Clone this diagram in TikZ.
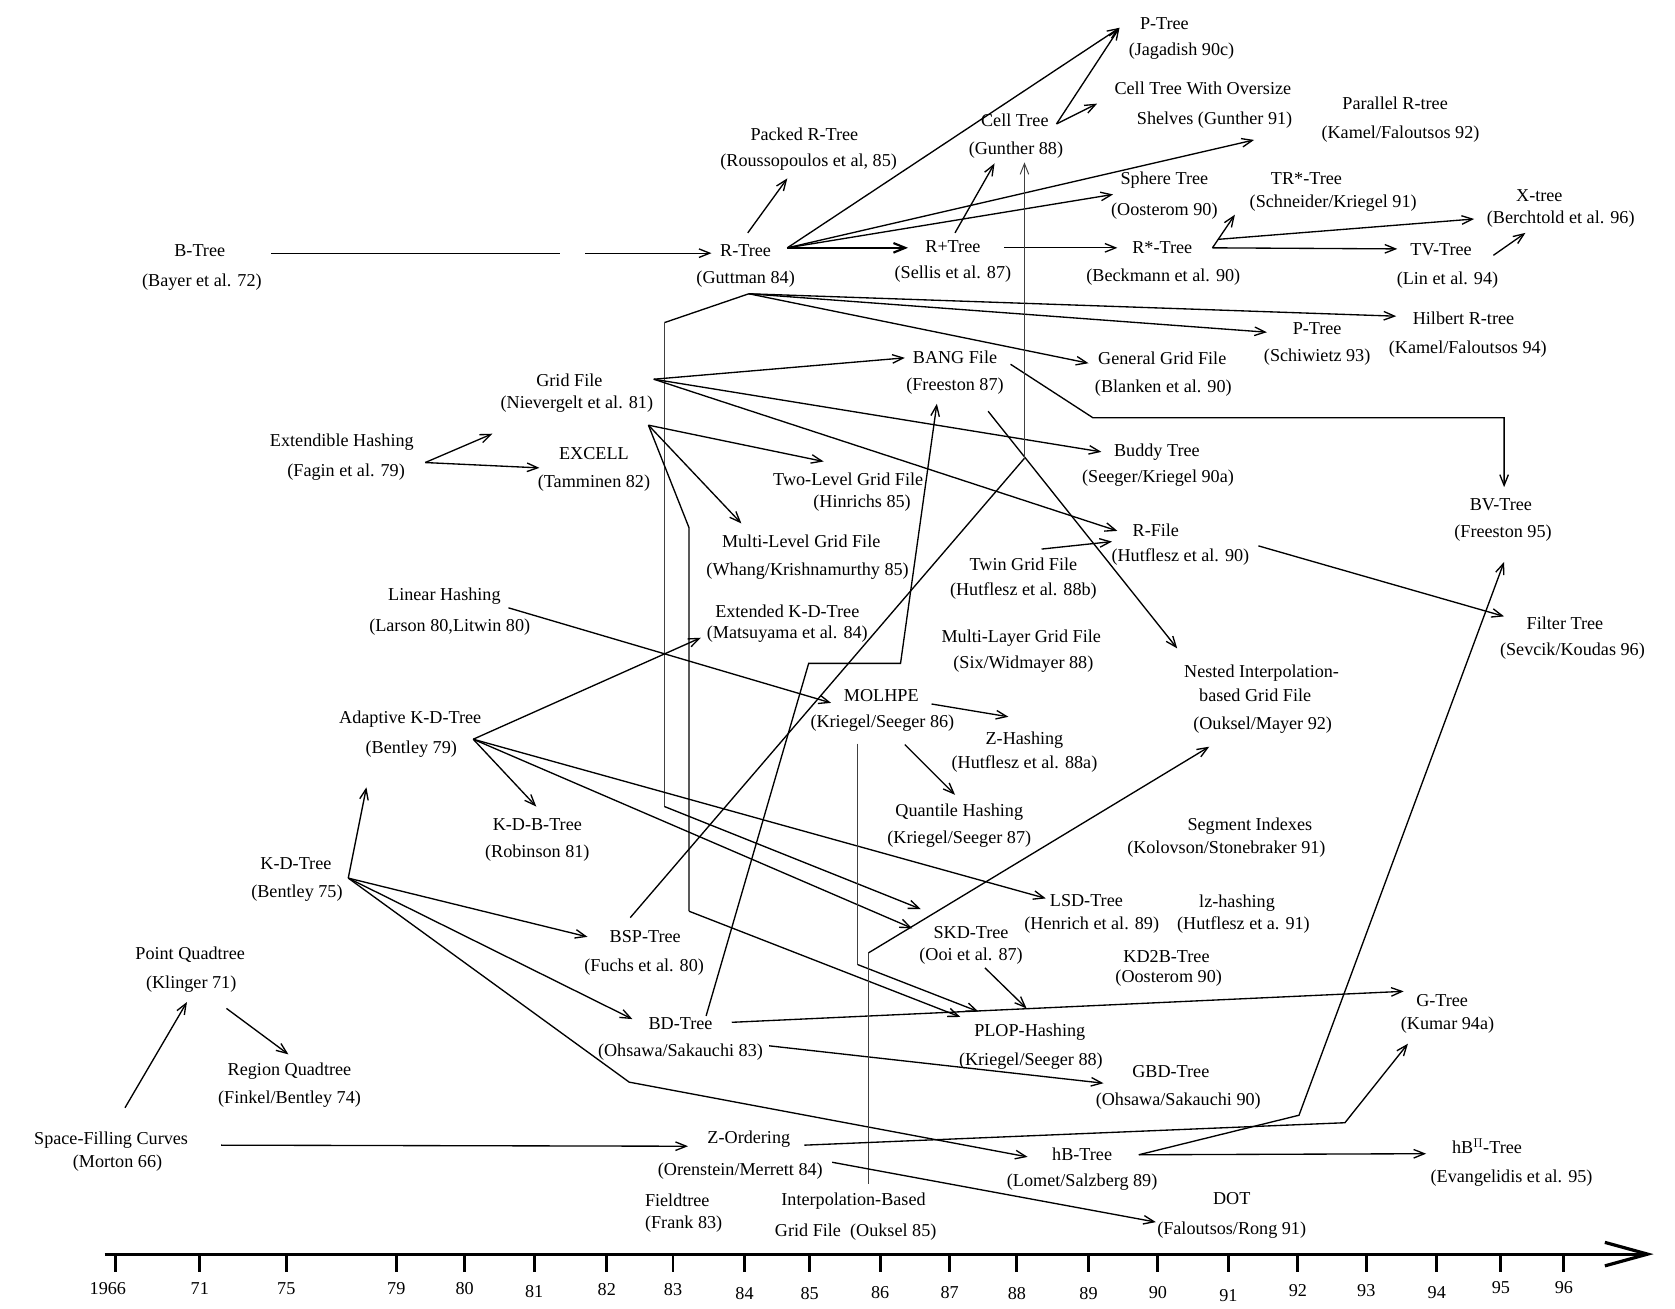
\documentclass[tikz,border=0pt]{standalone}
\usepackage{fontspec}
\setmainfont{Liberation Serif}
\usetikzlibrary{arrows.meta}
\newcommand\lblfont{\fontsize{17}{19}\selectfont}
\begin{document}
\begin{tikzpicture}[x=1pt,y=-1pt,
  lbl/.style={inner sep=0pt, font=\lblfont},
  con/.style={line width=1.25pt},
  arr/.style={con, -{Straight Barb[length=10pt,width=8pt]}},
  heavy/.style={line width=2pt, -{Straight Barb[length=11pt,width=9pt]}},
  vline/.style={line width=0.9pt, draw=black!75},
  varr/.style={vline, -{Straight Barb[length=10pt,width=8pt]}},
  tickmark/.style={line width=2.8pt},
  axis/.style={line width=3pt, -{Straight Barb[length=40pt,width=22pt]}}]

\fill[white] (0,0) rectangle (1568,1225);
\useasboundingbox (0,0) rectangle (1568,1225);

% ---------------- nodes ----------------
\node[lbl] (btA) at (187,235) {B-Tree};
\node[lbl] (btB) at (189,264) {(Bayer et al. 72)};
\node[lbl] (rtA) at (698,235) {R-Tree};
\node[lbl] (rtB) at (698,261) {(Guttman 84)};
\node[lbl] (prA) at (753,126) {Packed R-Tree};
\node[lbl] (prB) at (757,152) {(Roussopoulos et al, 85)};
\node[lbl] (ctA) at (950,113) {Cell Tree};
\node[lbl] (ctB) at (951,141) {(Gunther 88)};
\node[lbl] (pjA) at (1090,22) {P-Tree};
\node[lbl] (pjB) at (1106,48) {(Jagadish 90c)};
\node[lbl] (coA) at (1126,83) {Cell Tree With Oversize};
\node[lbl] (coB) at (1137,112) {Shelves (Gunther 91)};
\node[lbl] (parA) at (1306,97) {Parallel R-tree};
\node[lbl] (parB) at (1311,126) {(Kamel/Faloutsos 92)};
\node[lbl] (spA) at (1090,169) {Sphere Tree};
\node[lbl] (spB) at (1090,198) {(Oosterom 90)};
\node[lbl] (trA) at (1223,167) {TR*-Tree};
\node[lbl] (trB) at (1248,190) {(Schneider/Kriegel 91)};
\node[lbl] (xtA) at (1441,183) {X-tree};
\node[lbl] (xtB) at (1461,205) {(Berchtold et al. 96)};
\node[lbl] (rpA) at (892,231) {R+Tree};
\node[lbl] (rpB) at (892,257) {(Sellis et al. 87)};
\node[lbl] (rsA) at (1088,232) {R*-Tree};
\node[lbl] (rsB) at (1089,259) {(Beckmann et al. 90)};
\node[lbl] (tvA) at (1349,234) {TV-Tree};
\node[lbl] (tvB) at (1355,262) {(Lin et al. 94)};
\node[lbl] (hrA) at (1370,298) {Hilbert R-tree};
\node[lbl] (hrB) at (1374,327) {(Kamel/Faloutsos 94)};
\node[lbl] (psA) at (1233,308) {P-Tree};
\node[lbl] (psB) at (1233,334) {(Schiwietz 93)};
\node[lbl] (ggA) at (1088,335) {General Grid File};
\node[lbl] (ggB) at (1089,363) {(Blanken et al. 90)};
\node[lbl] (bgA) at (894,334) {BANG File};
\node[lbl] (bgB) at (894,361) {(Freeston 87)};
\node[lbl] (gfA) at (533,356) {Grid File};
\node[lbl] (gfB) at (540,378) {(Nievergelt et al. 81)};
\node[lbl] (ehA) at (320,414) {Extendible Hashing};
\node[lbl] (ehB) at (324,442) {(Fagin et al. 79)};
\node[lbl] (exA) at (556,425) {EXCELL};
\node[lbl] (exB) at (556,452) {(Tamminen 82)};
\node[lbl] (tlA) at (794,449) {Two-Level Grid File};
\node[lbl] (tlB) at (807,471) {(Hinrichs 85)};
\node[lbl] (buA) at (1083,423) {Buddy Tree};
\node[lbl] (buB) at (1084,448) {(Seeger/Kriegel 90a)};
\node[lbl] (bvA) at (1405,472) {BV-Tree};
\node[lbl] (bvB) at (1407,499) {(Freeston 95)};
\node[lbl] (rfA) at (1082,496) {R-File};
\node[lbl] (rfB) at (1105,521) {(Hutflesz et al. 90)};
\node[lbl] (mlA) at (750,507) {Multi-Level Grid File};
\node[lbl] (mlB) at (756,535) {(Whang/Krishnamurthy 85)};
\node[lbl] (tgA) at (958,528) {Twin Grid File};
\node[lbl] (tgB) at (958,553) {(Hutflesz et al. 88b)};
\node[lbl] (lhA) at (416,558) {Linear Hashing};
\node[lbl] (lhB) at (421,587) {(Larson 80,Litwin 80)};
\node[lbl] (ekA) at (737,572) {Extended K-D-Tree};
\node[lbl] (ekB) at (737,594) {(Matsuyama et al. 84)};
\node[lbl] (myA) at (956,597) {Multi-Layer Grid File};
\node[lbl] (myB) at (958,622) {(Six/Widmayer 88)};
\node[lbl] (ftA) at (1465,583) {Filter Tree};
\node[lbl] (ftB) at (1472,610) {(Sevcik/Koudas 96)};
\node[lbl] (niA) at (1181,630) {Nested Interpolation-};
\node[lbl] (niB) at (1175,651) {based Grid File};
\node[lbl] (niC) at (1182,679) {(Ouksel/Mayer 92)};
\node[lbl] (moA) at (825,651) {MOLHPE};
\node[lbl] (moB) at (826,677) {(Kriegel/Seeger 86)};
\node[lbl] (zhA) at (959,693) {Z-Hashing};
\node[lbl] (zhB) at (959,715) {(Hutflesz et al. 88a)};
\node[lbl] (akA) at (384,673) {Adaptive K-D-Tree};
\node[lbl] (akB) at (385,701) {(Bentley 79)};
\node[lbl] (qhA) at (898,760) {Quantile Hashing};
\node[lbl] (qhB) at (898,786) {(Kriegel/Seeger 87)};
\node[lbl] (siA) at (1170,773) {Segment Indexes};
\node[lbl] (siB) at (1148,795) {(Kolovson/Stonebraker 91)};
\node[lbl] (kbA) at (503,772) {K-D-B-Tree};
\node[lbl] (kbB) at (503,799) {(Robinson 81)};
\node[lbl] (kdA) at (277,808) {K-D-Tree};
\node[lbl] (kdB) at (278,836) {(Bentley 75)};
\node[lbl] (lsA) at (1017,843) {LSD-Tree};
\node[lbl] (lsB) at (1022,866) {(Henrich et al. 89)};
\node[lbl] (lzA) at (1158,845) {lz-hashing};
\node[lbl] (lzB) at (1164,866) {(Hutflesz et a. 91)};
\node[lbl] (skA) at (909,873) {SKD-Tree};
\node[lbl] (skB) at (909,895) {(Ooi et al. 87)};
\node[lbl] (k2A) at (1092,895) {KD2B-Tree};
\node[lbl] (k2B) at (1094,916) {(Oosterom 90)};
\node[lbl] (bsA) at (604,877) {BSP-Tree};
\node[lbl] (bsB) at (603,905) {(Fuchs et al. 80)};
\node[lbl] (pqA) at (178,894) {Point Quadtree};
\node[lbl] (pqB) at (179,921) {(Klinger 71)};
\node[lbl] (bdA) at (637,958) {BD-Tree};
\node[lbl] (bdB) at (637,985) {(Ohsawa/Sakauchi 83)};
\node[lbl] (plA) at (964,966) {PLOP-Hashing};
\node[lbl] (plB) at (965,993) {(Kriegel/Seeger 88)};
\node[lbl] (gtA) at (1350,937) {G-Tree};
\node[lbl] (gtB) at (1355,960) {(Kumar 94a)};
\node[lbl] (gbA) at (1096,1003) {GBD-Tree};
\node[lbl] (gbB) at (1103,1031) {(Ohsawa/Sakauchi 90)};
\node[lbl] (rqA) at (271,1003) {Region Quadtree};
\node[lbl] (rqB) at (271,1029) {(Finkel/Bentley 74)};
\node[lbl] (sfA) at (104,1067) {Space-Filling Curves};
\node[lbl] (sfB) at (110,1089) {(Morton 66)};
\node[lbl] (zoA) at (701,1066) {Z-Ordering};
\node[lbl] (zoB) at (693,1096) {(Orenstein/Merrett 84)};
\node[lbl] (hbA) at (1013,1081) {hB-Tree};
\node[lbl] (hbB) at (1013,1107) {(Lomet/Salzberg 89)};
\node[lbl] (hpA) at (1392,1073) {hB$^{\Pi}$-Tree};
\node[lbl] (hpB) at (1415,1103) {(Evangelidis et al. 95)};
\node[lbl] (doA) at (1153,1122) {DOT};
\node[lbl] (doB) at (1153,1152) {(Faloutsos/Rong 91)};
\node[lbl] (fiA) at (634,1124) {Fieldtree};
\node[lbl] (fiB) at (640,1146) {(Frank 83)};
\node[lbl] (ibA) at (799,1124) {Interpolation-Based};
\node[lbl] (ibB) at (801,1153) {Grid File\enspace(Ouksel 85)};

% ---------------- connector points ----------------
\coordinate (btO) at (254,237); \coordinate (btG1) at (524,237);
\coordinate (btG2) at (548,237); \coordinate (rtI) at (666,237);
\coordinate (rtF) at (737,232); \coordinate (rtP) at (700,218);
\coordinate (prI) at (737,167); \coordinate (pjI) at (1048,26);
\coordinate (coI) at (1174,131); \coordinate (spI) at (1042,182);
\coordinate (rpI) at (850,232);
\coordinate (ctF) at (989,116); \coordinate (coI2) at (1027,97);
\coordinate (rpO1) at (894,218); \coordinate (ctI) at (931,153);
\coordinate (rpO2) at (940,232); \coordinate (rsI) at (1046,232);
\coordinate (rsF) at (1135,232); \coordinate (trI) at (1156,201);
\coordinate (rsX) at (1141,224); \coordinate (xtI) at (1380,205);
\coordinate (tvI) at (1308,233);
\coordinate (tvO) at (1398,239); \coordinate (xtI2) at (1428,218);
\coordinate (rtD) at (701,275); \coordinate (hrI) at (1307,296);
\coordinate (psI) at (1186,311); \coordinate (ggI) at (1019,340);
\coordinate (rtK1) at (622,302); \coordinate (rtK2) at (622,755);
\coordinate (skI1) at (862,851);
\coordinate (gfU) at (612,355); \coordinate (bgI) at (847,335);
\coordinate (buI) at (1031,423); \coordinate (rfI) at (1046,497);
\coordinate (gfL) at (607,398); \coordinate (tlI) at (771,432);
\coordinate (mlI) at (694,490); \coordinate (gfK1) at (645,494);
\coordinate (gfK2) at (645,853); \coordinate (plI1) at (899,952);
\coordinate (bgO1) at (946,341); \coordinate (bgK1) at (1023,391);
\coordinate (bgK2) at (1408,391); \coordinate (bvI) at (1408,456);
\coordinate (bgO2) at (925,385); \coordinate (niI1) at (1102,607);
\coordinate (tgO) at (975,514); \coordinate (rfI2) at (1041,507);
\coordinate (rfO) at (1178,511); \coordinate (ftI) at (1408,577);
\coordinate (ehF) at (398,433); \coordinate (gfI) at (461,406);
\coordinate (exI) at (505,438);
\coordinate (lhO) at (476,569); \coordinate (moI) at (778,658);
\coordinate (akF) at (443,692); \coordinate (ekI) at (656,597);
\coordinate (kbI) at (502,755); \coordinate (lsI) at (979,841);
\coordinate (skI2) at (854,869);
\coordinate (kdF) at (326,822); \coordinate (akI) at (343,737);
\coordinate (bsI) at (550,877); \coordinate (bdI) at (592,954);
\coordinate (kdK) at (589,1013); \coordinate (hbI) at (962,1083);
\coordinate (bsO) at (590,859); \coordinate (bsK) at (959,429);
\coordinate (ctI2) at (959,152);
\coordinate (bdO1) at (661,951); \coordinate (bdK1) at (757,621);
\coordinate (bdK2) at (843,621); \coordinate (bgI2) at (877,378);
\coordinate (bdO2) at (685,957); \coordinate (gtI) at (1314,928);
\coordinate (bdO3) at (720,979); \coordinate (gbI) at (1033,1014);
\coordinate (moO1) at (872,659); \coordinate (zhI) at (944,671);
\coordinate (moO2) at (847,697); \coordinate (qhI) at (894,744);
\coordinate (moO3) at (803,696); \coordinate (moK) at (803,903);
\coordinate (plI2) at (916,947);
\coordinate (skO) at (922,906); \coordinate (plI3) at (961,944);
\coordinate (ibO) at (813,1108); \coordinate (ibK) at (813,892);
\coordinate (niI2) at (1132,699);
\coordinate (sfO1) at (117,1037); \coordinate (pqI) at (175,938);
\coordinate (pqO) at (212,944); \coordinate (rqI) at (270,987);
\coordinate (sfO2) at (207,1072); \coordinate (zoI) at (644,1073);
\coordinate (zoO1) at (753,1072); \coordinate (zoK) at (1259,1051);
\coordinate (gtI2) at (1318,977);
\coordinate (zoO2) at (779,1088); \coordinate (doI) at (1082,1144);
\coordinate (hbO) at (1066,1081); \coordinate (hbK) at (1216,1044);
\coordinate (bvI2) at (1408,526); \coordinate (hpI) at (1335,1080);

% ---------------- connectors ----------------
\draw[con] (btO) -- (btG1);
\draw[arr] (btG2) -- (rtI);
\draw[arr] (rtP) -- (prI);
\draw[arr] (rtF) -- (pjI);
\draw[arr] (rtF) -- (coI);
\draw[arr] (rtF) -- (spI);
\draw[heavy] (rtF) -- (rpI);
\draw[arr] (ctF) -- (pjI);
\draw[arr] (ctF) -- (coI2);
\draw[arr] (rpO1) -- (ctI);
\draw[arr] (rpO2) -- (rsI);
\draw[arr] (rsF) -- (trI);
\draw[arr] (rsX) -- (xtI);
\draw[arr] (rsF) -- (tvI);
\draw[arr] (tvO) -- (xtI2);
\draw[arr] (rtD) -- (hrI);
\draw[arr] (rtD) -- (psI);
\draw[arr] (rtD) -- (ggI);
\draw[con] (rtD) -- (rtK1);
\draw[vline] (rtK1) -- (rtK2);
\draw[arr] (rtK2) -- (skI1);
\draw[arr] (gfU) -- (bgI);
\draw[arr] (gfU) -- (buI);
\draw[arr] (gfU) -- (rfI);
\draw[arr] (gfL) -- (tlI);
\draw[arr] (gfL) -- (mlI);
\draw[con] (gfL) -- (gfK1) -- (gfK2);
\draw[arr] (gfK2) -- (plI1);
\draw[arr] (bgO1) -- (bgK1) -- (bgK2) -- (bvI);
\draw[arr] (bgO2) -- (niI1);
\draw[arr] (tgO) -- (rfI2);
\draw[arr] (rfO) -- (ftI);
\draw[arr] (ehF) -- (gfI);
\draw[arr] (ehF) -- (exI);
\draw[arr] (lhO) -- (moI);
\draw[arr] (akF) -- (ekI);
\draw[arr] (akF) -- (kbI);
\draw[arr] (akF) -- (lsI);
\draw[arr] (akF) -- (skI2);
\draw[arr] (kdF) -- (akI);
\draw[arr] (kdF) -- (bsI);
\draw[arr] (kdF) -- (bdI);
\draw[arr] (kdF) -- (kdK) -- (hbI);
\draw[con] (bsO) -- (bsK);
\draw[varr] (bsK) -- (ctI2);
\draw[arr] (bdO1) -- (bdK1) -- (bdK2) -- (bgI2);
\draw[arr] (bdO2) -- (gtI);
\draw[arr] (bdO3) -- (gbI);
\draw[arr] (moO1) -- (zhI);
\draw[arr] (moO2) -- (qhI);
\draw[vline] (moO3) -- (moK);
\draw[arr] (moK) -- (plI2);
\draw[arr] (skO) -- (plI3);
\draw[vline] (ibO) -- (ibK);
\draw[arr] (ibK) -- (niI2);
\draw[arr] (sfO1) -- (pqI);
\draw[arr] (pqO) -- (rqI);
\draw[arr] (sfO2) -- (zoI);
\draw[arr] (zoO1) -- (zoK) -- (gtI2);
\draw[arr] (zoO2) -- (doI);
\draw[arr] (hbO) -- (hbK) -- (bvI2);
\draw[arr] (hbO) -- (hpI);

% ---------------- time axis ----------------
\coordinate (ax0) at (98,1174);
\coordinate (ax1) at (1548,1174);
\draw[axis] (ax0) -- (ax1);
\foreach \n/\x/\lx/\ly in {1966/108/101/1206, 71/187/187/1206, 75/268/268/1206,
  79/371/371/1206, 80/435/435/1206, 81/500/500/1209, 82/568/568/1207,
  83/630/630/1207, 84/697/697/1211, 85/758/758/1211, 86/824/824/1210,
  87/889/889/1210, 88/952/952/1211, 89/1019/1019/1211, 90/1084/1084/1210,
  91/1150/1150/1213, 92/1215/1215/1208, 93/1279/1279/1208, 94/1345/1345/1210,
  95/1405/1405/1205, 96/1464/1464/1205}{
  \draw[tickmark] (\x,1173) -- (\x,1191);
  \node[lbl] (yr\n) at (\lx,\ly) {\n};
}
\end{tikzpicture}
\end{document}
